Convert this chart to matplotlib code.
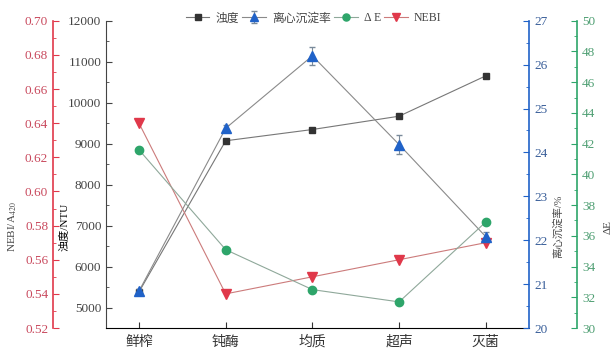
import matplotlib
matplotlib.use("Agg")
import matplotlib.pyplot as plt
from matplotlib.ticker import MultipleLocator

plt.rcParams['font.family'] = ['Liberation Serif', 'Noto Sans CJK SC']
plt.rcParams['mathtext.fontset'] = 'stix'

# 数据
categories = ['鲜榨', '钝酶', '均质', '超声', '灭菌']
turbidity = [5380, 9070, 9345, 9670, 10655]
sediment = [20.84, 24.55, 26.20, 24.18, 22.08]
sediment_err = [0.05, 0.08, 0.20, 0.22, 0.10]
delta_e = [41.6, 35.1, 32.5, 31.7, 36.9]
nebi = [0.640, 0.540, 0.550, 0.560, 0.570]

red = '#e0384a'
red_txt = '#c94a5e'
blue = '#2062c8'
green = '#2ea56a'
dark = '#333333'

fig = plt.figure(figsize=(6.15, 3.54), dpi=100)
ax = fig.add_axes([0.1724, 0.0734, 0.688, 0.868])
x = list(range(len(categories)))

# 浊度 (主轴)
l1, = ax.plot(x, turbidity, '-', color='#777777', lw=0.8, marker='s', ms=5,
              mfc=dark, mec=dark, label='浊度')
ax.set_ylim(4500, 12000)
ax.yaxis.set_major_locator(MultipleLocator(1000))
ax.yaxis.set_minor_locator(MultipleLocator(500))
ax.set_ylabel('浊度/NTU', fontsize=8, labelpad=1)
ax.yaxis.set_label_coords(-0.085, 0.33)
ax.set_xlim(-0.38, 4.5)
ax.set_xticks(x)
ax.set_xticklabels(categories, fontsize=10, family='Noto Sans CJK SC')
ax.spines['top'].set_visible(False)
ax.spines['right'].set_visible(False)
ax.spines['left'].set_color('#444444')
ax.tick_params(axis='both', which='both', direction='in', labelsize=9.5, colors='#444444')
ax.tick_params(axis='x', length=4, pad=5, colors='#333333', labelsize=10)
ax.tick_params(axis='y', which='major', length=4)
ax.tick_params(axis='y', which='minor', length=2)

# NEBI (左外侧)
ax_n = ax.twinx()
ax_n.spines['left'].set_position(('axes', -0.1253))
ax_n.spines['left'].set_visible(True)
ax_n.spines['right'].set_visible(False)
ax_n.spines['top'].set_visible(False)
ax_n.spines['bottom'].set_visible(False)
ax_n.spines['left'].set_color(red)
ax_n.spines['left'].set_linewidth(1.2)
ax_n.yaxis.set_ticks_position('left')
ax_n.yaxis.set_label_position('left')
l4, = ax_n.plot(x, nebi, '-', color='#cc7b7b', lw=0.8, marker='v', ms=6.5,
                mfc=red, mec=red, label='NEBI')
ax_n.set_ylim(0.52, 0.70)
ax_n.yaxis.set_major_locator(MultipleLocator(0.02))
ax_n.yaxis.set_minor_locator(MultipleLocator(0.01))
ax_n.yaxis.set_major_formatter(matplotlib.ticker.FormatStrFormatter('%.2f'))
ax_n.tick_params(axis='y', which='both', direction='in', labelsize=9.5,
                 colors=red, labelcolor=red_txt)
ax_n.tick_params(axis='y', which='major', length=4)
ax_n.tick_params(axis='y', which='minor', length=2)
ax_n.set_ylabel('NEBI/A$_{420}$', fontsize=8, color='#444444')
ax_n.yaxis.set_label_coords(-0.205, 0.33)

# 离心沉淀率 (右内侧)
ax_b = ax.twinx()
ax_b.spines['right'].set_color(blue)
ax_b.spines['right'].set_linewidth(1.2)
for s in ['left', 'top', 'bottom']:
    ax_b.spines[s].set_visible(False)
l2 = ax_b.errorbar(x, sediment, yerr=sediment_err, fmt='-^', color='#8a8a8a', lw=0.8,
                   ms=6.5, mfc=blue, mec=blue, ecolor='#7a8a9a', elinewidth=0.8,
                   capsize=2.5, label='离心沉淀率')
ax_b.set_ylim(20, 27)
ax_b.yaxis.set_major_locator(MultipleLocator(1))
ax_b.yaxis.set_minor_locator(MultipleLocator(0.5))
ax_b.tick_params(axis='y', which='both', direction='in', labelsize=9.5,
                 colors=blue, labelcolor='#3a5f9a')
ax_b.tick_params(axis='y', which='major', length=4)
ax_b.tick_params(axis='y', which='minor', length=2)
ax_b.set_ylabel('离心沉淀率/%', fontsize=7.5, color='#444444')
ax_b.yaxis.set_label_coords(1.055, 0.33)

# ΔE (右外侧)
ax_g = ax.twinx()
ax_g.spines['right'].set_position(('axes', 1.1135))
ax_g.spines['right'].set_color(green)
ax_g.spines['right'].set_linewidth(1.2)
for s in ['left', 'top', 'bottom']:
    ax_g.spines[s].set_visible(False)
l3, = ax_g.plot(x, delta_e, '-', color='#8fa89a', lw=0.8, marker='o', ms=6,
                mfc=green, mec=green, label='ΔE')
ax_g.set_ylim(30, 50)
ax_g.yaxis.set_major_locator(MultipleLocator(2))
ax_g.yaxis.set_minor_locator(MultipleLocator(1))
ax_g.tick_params(axis='y', which='both', direction='in', labelsize=9.5,
                 colors=green, labelcolor='#4f9f73')
ax_g.tick_params(axis='y', which='major', length=4)
ax_g.tick_params(axis='y', which='minor', length=2)
ax_g.set_ylabel('ΔE', fontsize=8, color='#444444')
ax_g.yaxis.set_label_coords(1.175, 0.33)

fig.legend([l1, l2, l3, l4], ['浊度', '离心沉淀率', 'Δ E', 'NEBI'],
           loc='center', bbox_to_anchor=(0.51, 0.948), ncol=4, frameon=False,
           fontsize=8.5, handlelength=2.0, handletextpad=0.5, columnspacing=0.3,
           labelcolor='#444444', markerscale=0.85)

fig.savefig('out.png', dpi=100)
